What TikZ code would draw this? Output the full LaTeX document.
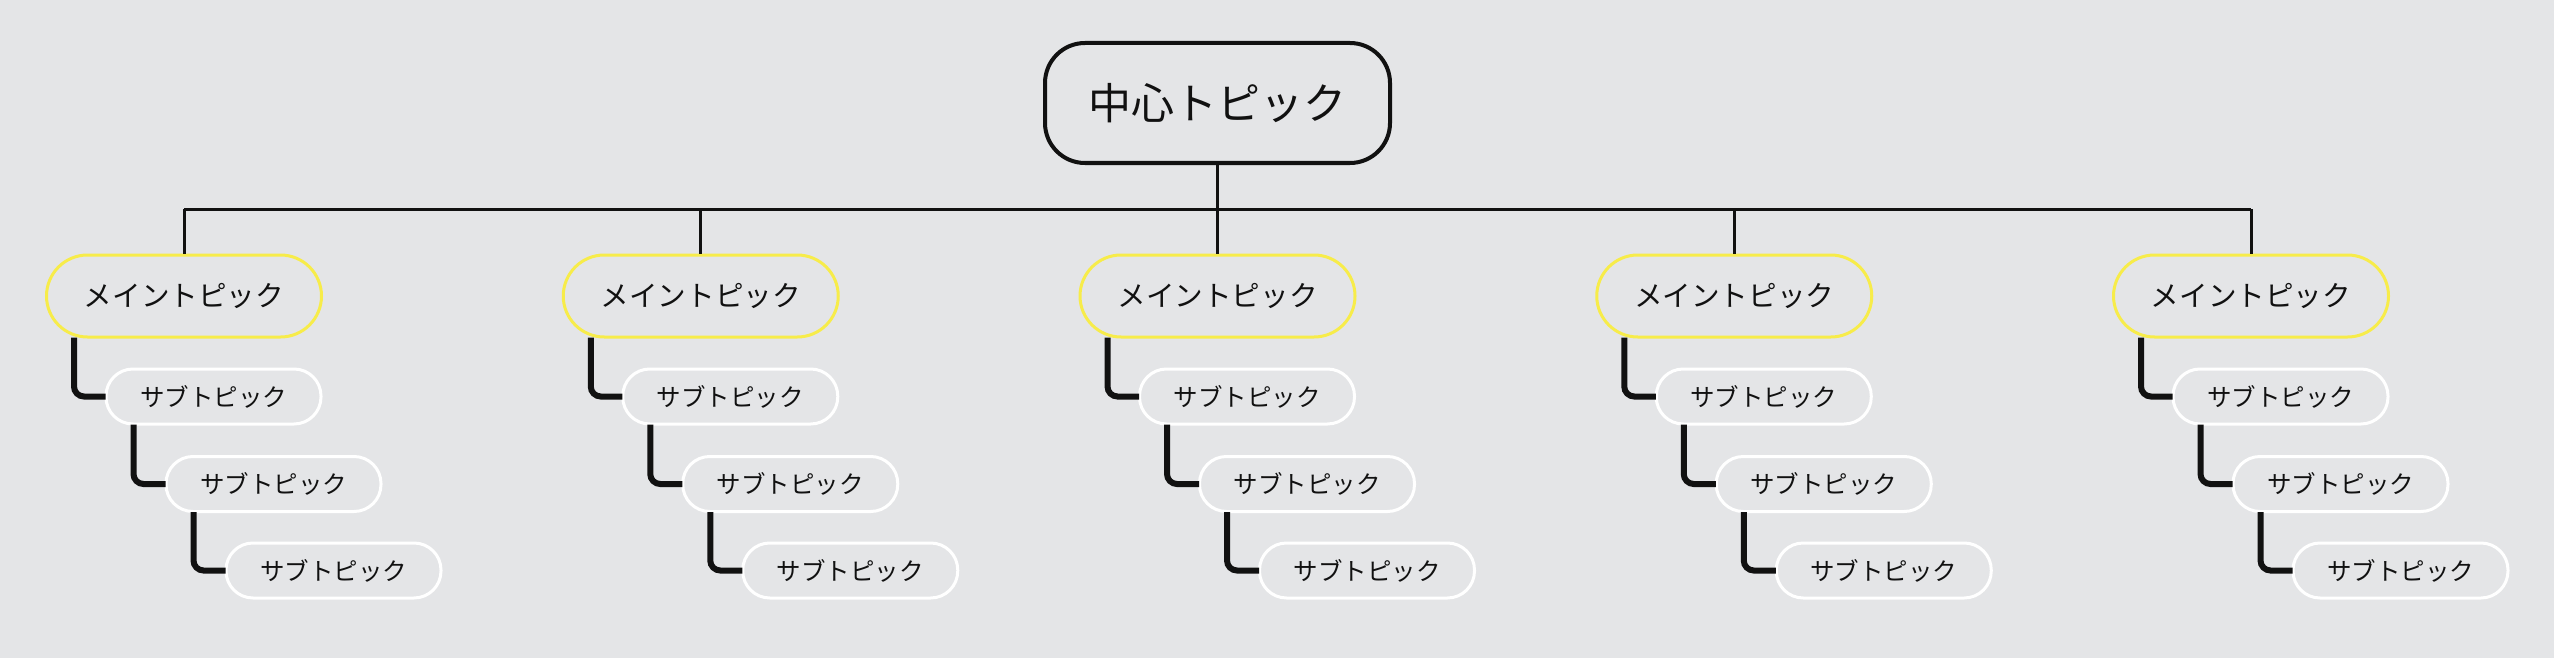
\documentclass[tikz,border=0pt]{standalone}
\usepackage{fontspec}
\setmainfont{Noto Sans CJK JP}
\usetikzlibrary{calc}
\definecolor{bg}{HTML}{E4E5E7}
\definecolor{ylw}{HTML}{F7EC4A}
\definecolor{ink}{HTML}{111111}
\tikzset{
  centralbox/.style={draw=ink, line width=4pt, fill=bg, rounded corners=40pt, minimum width=345pt, minimum height=120pt, inner sep=0pt, font=\fontsize{43}{50}\selectfont, text=ink},
  mainbox/.style={draw=ylw, line width=3pt, fill=bg, rounded corners=41pt, minimum width=275pt, minimum height=82pt, inner sep=0pt, font=\fontsize{28.6}{34}\selectfont, text=ink},
  subbox/.style={draw=white, line width=3pt, fill=bg, rounded corners=27pt, minimum width=215pt, minimum height=55pt, inner sep=0pt, font=\fontsize{24.5}{30}\selectfont, text=ink},
  treeline/.style={draw=ink, line width=3pt},
  subline/.style={draw=ink, line width=6pt, rounded corners=10pt}
}
\begin{document}
\begin{tikzpicture}[x=1pt,y=-1pt]
\fill[bg] (0,0) rectangle (2554,658);
\useasboundingbox (0,0) rectangle (2554,658);
\node[centralbox] (c) at (1217.5,103) {中心トピック};
\coordinate (hy) at (0,209);
\draw[treeline] (c.south) -- (c.south |- hy);
\foreach \i/\cx in {1/184,2/700.75,3/1217.5,4/1734.25,5/2251}{
  \node[mainbox] (m\i) at (\cx,296) {メイントピック};
  \node[subbox] (s\i a) at (\cx+29.5,396.5) {サブトピック};
  \node[subbox] (s\i b) at (\cx+89.5,484) {サブトピック};
  \node[subbox] (s\i c) at (\cx+149.5,570.5) {サブトピック};
  \draw[treeline] (m\i.north) -- (m\i.north |- hy);
  \draw[subline] ($(m\i.south west)+(29,-1)$) |- ($(s\i a.west)+(1,0)$);
  \draw[subline] ($(s\i a.south west)+(29,-1)$) |- ($(s\i b.west)+(1,0)$);
  \draw[subline] ($(s\i b.south west)+(29,-1)$) |- ($(s\i c.west)+(1,0)$);
}
\draw[treeline] (m1.north |- hy) -- (m5.north |- hy);
\end{tikzpicture}
\end{document}
